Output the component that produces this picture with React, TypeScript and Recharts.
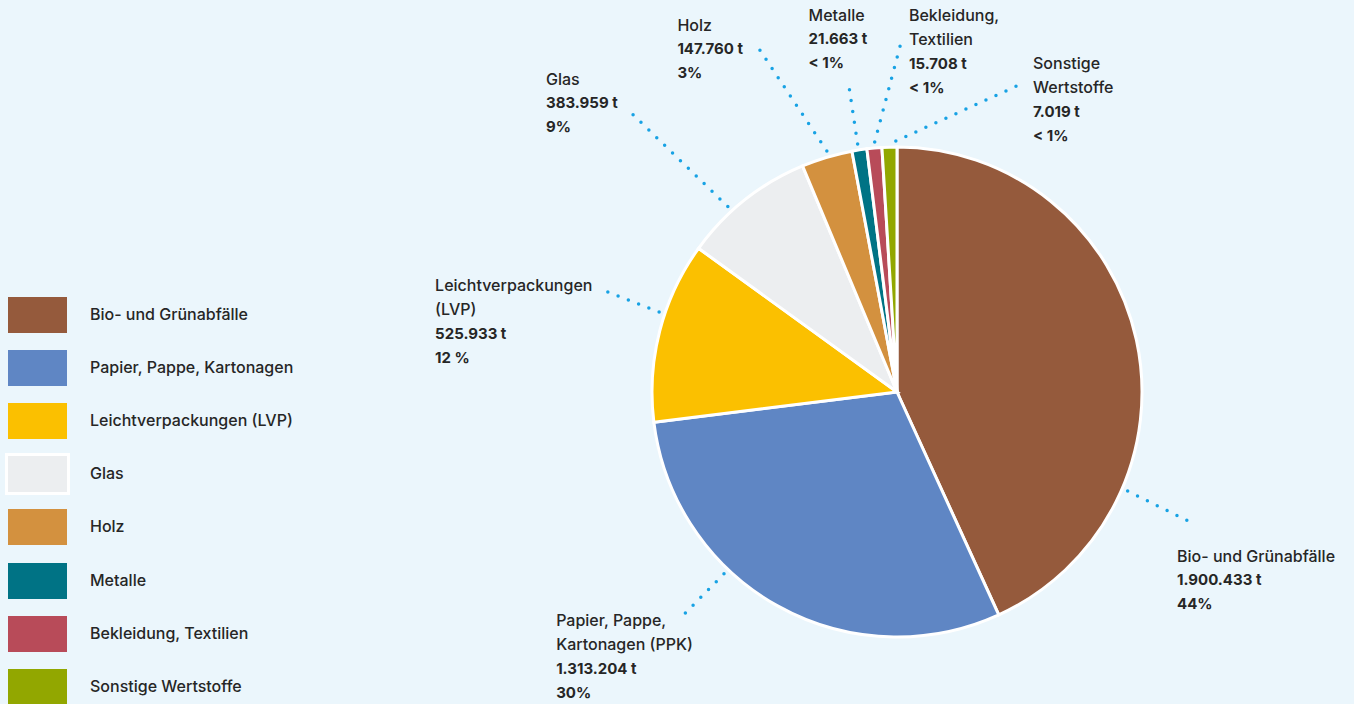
import { Cell, Pie, PieChart } from 'recharts'

const CATEGORIES = [
    'Bio- und Grünabfälle',
    'Papier, Pappe, Kartonagen',
    'Leichtverpackungen (LVP)',
    'Glas',
    'Holz',
    'Metalle',
    'Bekleidung, Textilien',
    'Sonstige Wertstoffe',
]

// label names as broken in the original callouts
const LABEL_NAMES = [
    ['Bio- und Grünabfälle'],
    ['Papier, Pappe,', 'Kartonagen (PPK)'],
    ['Leichtverpackungen', '(LVP)'],
    ['Glas'],
    ['Holz'],
    ['Metalle'],
    ['Bekleidung,', 'Textilien'],
    ['Sonstige', 'Wertstoffe'],
]

const TONNES = [1900433, 1313204, 525933, 383959, 147760, 21663, 15708, 7019]
const PERCENT_LABELS = ['44%', '30%', '12 %', '9%', '3%', '< 1%', '< 1%', '< 1%']

const COLORS = [
    '#955a3c',
    '#5f86c4',
    '#fbc000',
    '#eceef0',
    '#d3913f',
    '#007385',
    '#b84b59',
    '#92a700',
]

// the original draws the tiny fractions wider so they stay visible
const MIN_SHARE = 0.01

const TOTAL = TONNES.reduce((a, b) => a + b, 0)

const pieData = CATEGORIES.map((name, i) => ({
    name,
    tonnes: TONNES[i],
    drawn: Math.max(TONNES[i], TOTAL * MIN_SHARE),
}))

// callout placement: angle offsets (deg, clockwise) from the slice middle
const LABEL_LAYOUT = [
    { start: 35.5, end: 36.2, endR: 325, dx: -17, dy: 32 },
    { start: 14.4, end: 14.6, endR: 312, dx: -125, dy: 3 },
    { start: 4.2, end: 4.7, endR: 311, dx: -168, dy: -5 },
    { start: -4, end: -5.2, endR: 383, dx: -87, dy: -36 },
    { start: 0.4, end: -5.3, endR: 371, dx: -81, dy: -23 },
    { start: -0.2, end: -0.1, endR: 312, dx: -40, dy: -69 },
    { start: 0.2, end: 6.1, endR: 353, dx: 7, dy: -24 },
    { start: 1.5, end: 23.7, endR: 332, dx: 12, dy: -21 },
]

const FONT = 'Inter, "Noto Sans", sans-serif'
const TEXT_COLOR = '#262626'
const RAD = Math.PI / 180

const fmtTonnes = (v: number) =>
    String(v).replace(/\B(?=(\d{3})+(?!\d))/g, '.') + ' t'

const polar = (cx: number, cy: number, r: number, cw: number) => ({
    x: cx + r * Math.sin(cw * RAD),
    y: cy - r * Math.cos(cw * RAD),
})

function Callout(props: any) {
    const { cx, cy, midAngle, outerRadius, index } = props
    const layout = LABEL_LAYOUT[index]
    const mid = 90 - midAngle
    const p1 = polar(cx, cy, outerRadius + 6, mid + layout.start)
    const p2 = polar(cx, cy, layout.endR, mid + layout.end)
    const tx = p2.x + layout.dx
    const ty = p2.y + layout.dy
    const lines = [
        ...LABEL_NAMES[index].map((t) => ({ t, w: 500, s: 16 })),
        { t: fmtTonnes(TONNES[index]), w: 700, s: 15 },
        { t: PERCENT_LABELS[index], w: 700, s: 15 },
    ]
    return (
        <g>
            <line
                x1={p1.x}
                y1={p1.y}
                x2={p2.x}
                y2={p2.y}
                stroke="#17a2e4"
                strokeWidth={3.5}
                strokeLinecap="round"
                strokeDasharray="0 11"
            />
            <text fontFamily={FONT} fill={TEXT_COLOR}>
                {lines.map((l, i) => (
                    <tspan
                        key={i}
                        x={tx}
                        y={ty + i * 24}
                        dominantBaseline="central"
                        fontWeight={l.w}
                        fontSize={l.s}
                    >
                        {l.t}
                    </tspan>
                ))}
            </text>
        </g>
    )
}

function LegendBlock() {
    return (
        <div style={{ position: 'absolute', left: 0, top: 297 }}>
            {CATEGORIES.map((name, i) => (
                <div
                    key={name}
                    style={{
                        position: 'absolute',
                        top: i * 53.1,
                        left: 0,
                        height: 36,
                        width: 320,
                    }}
                >
                    <div
                        style={{
                            position: 'absolute',
                            left: i === 3 ? 5 : 8,
                            top: i === 3 ? -3 : 0,
                            width: 59,
                            height: 36,
                            background: COLORS[i],
                            border: i === 3 ? '3px solid #ffffff' : 'none',
                        }}
                    />
                    <div
                        style={{
                            position: 'absolute',
                            left: 90,
                            top: -1,
                            lineHeight: '36px',
                            fontFamily: FONT,
                            fontSize: 16,
                            fontWeight: 500,
                            color: TEXT_COLOR,
                            whiteSpace: 'nowrap',
                        }}
                    >
                        {name}
                    </div>
                </div>
            ))}
        </div>
    )
}

export default function App() {
    return (
        <div
            style={{
                position: 'absolute',
                left: 0,
                top: 0,
                width: 1354,
                height: 704,
                background: '#ebf6fc',
                overflow: 'hidden',
            }}
        >
            <PieChart width={1354} height={704} margin={{ top: 0, right: 0, bottom: 0, left: 0 }}>
                <Pie
                    data={pieData}
                    dataKey="drawn"
                    nameKey="name"
                    cx={897}
                    cy={392}
                    outerRadius={245}
                    startAngle={90}
                    endAngle={-270}
                    stroke="#ffffff"
                    strokeWidth={3}
                    label={Callout}
                    labelLine={false}
                    isAnimationActive={false}
                >
                    {pieData.map((_, i) => (
                        <Cell key={i} fill={COLORS[i]} />
                    ))}
                </Pie>
            </PieChart>
            <LegendBlock />
        </div>
    )
}
